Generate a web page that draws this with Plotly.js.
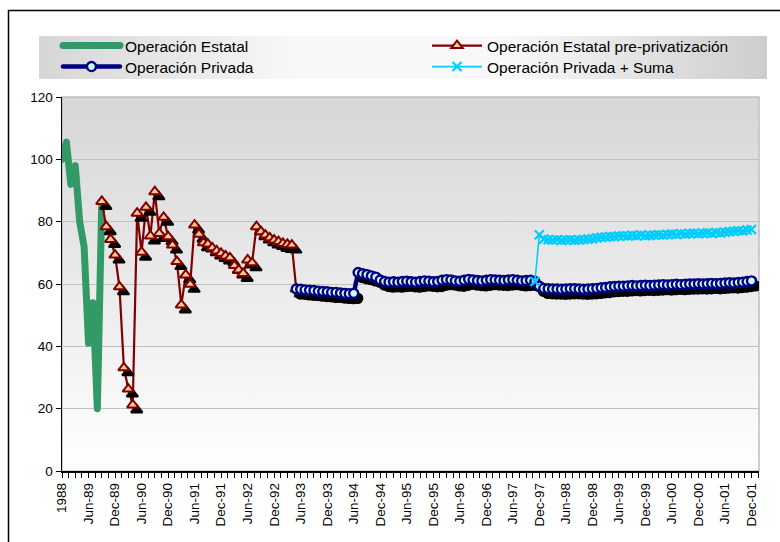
<!DOCTYPE html>
<html><head><meta charset="utf-8">
<script src="https://cdn.plot.ly/plotly-3.0.1.min.js"></script>
<style>
html,body{margin:0;padding:0;background:#fff;}
#chart{width:780px;height:542px;}
.tracepre .points, .tracepriv .points { filter: url(#shadow); }
.traceest .js-line, .tracepriv .js-line { stroke-linejoin: round !important; stroke-linecap: round !important; }
g.legend .legendlines path, g.legend3 .legendlines path { stroke-linecap: round !important; }
</style>
</head><body>
<svg width="0" height="0" style="position:absolute">
 <defs><filter id="shadow" x="-20%" y="-30%" width="150%" height="180%">
  <feDropShadow dx="4" dy="5" stdDeviation="0.5" flood-color="#000" flood-opacity="1"/>
 </filter></defs>
</svg>
<div id="chart"></div>
<script>
// Category axis: month index, 0 = "1988" label, ticks every 6 months
const tickLabels = ['1988','Jun-89','Dec-89','Jun-90','Dec-90','Jun-91','Dec-91','Jun-92','Dec-92','Jun-93','Dec-93','Jun-94','Dec-94','Jun-95','Dec-95','Jun-96','Dec-96','Jun-97','Dec-97','Jun-98','Dec-98','Jun-99','Dec-99','Jun-00','Dec-00','Jun-01','Dec-01'];

const estatalStart = 0;
const estatal = [100, 105.5, 92, 98, 80, 72, 41, 54, 20, 86.5];

const prePrivStart = 9;
const prePriv = [86.5, 78.4, 74.3, 69.3, 59.1, 33.1, 26.3, 21.2, 82.7, 70.2, 84.6, 75.4, 89.6, 76.2, 81.4, 75.2,
  72.5, 67.2, 53.3, 62.9, 59.9, 78.9, 76.0, 73.2, 72.8, 71.6, 70.6, 69.8, 69.0, 68.4, 65.9, 64.5, 63.4,
  67.7, 66.8, 78.4, 76.8, 75.7, 74.8, 74.1, 73.6, 73.0, 72.7, 72.5, 58.4];

const privadaStart = 53;
const privada = [58.4, 58.3, 58.1, 58.0, 57.9, 57.7, 57.6, 57.5, 57.3, 57.3, 57.1, 57.0, 56.9, 57.0,
  63.7, 63.3, 63.0, 62.6, 62.2, 61.3,
  60.8, 60.6, 60.7, 60.6, 60.8, 60.9, 60.7, 60.6, 60.8, 61.0, 60.9, 60.7, 60.8, 61.2, 61.4, 61.3, 61.0,
  60.9, 61.2, 61.5, 61.3, 61.1, 61.0, 61.2, 61.4, 61.3, 61.2, 61.1, 61.3, 61.4, 61.2, 61.0, 61.1, 61.2,
  60.8, 59.3, 58.6,
  58.5, 58.4, 58.4, 58.3, 58.4, 58.5, 58.5, 58.4, 58.3, 58.4, 58.5,
  58.6, 58.8, 58.9, 59.1, 59.2, 59.3, 59.3, 59.4, 59.5, 59.4, 59.5, 59.6,
  59.5, 59.6, 59.7, 59.8, 59.7, 59.8, 59.9, 59.8, 59.9, 60.0, 60.0, 60.1,
  60.0, 60.1, 60.2, 60.1, 60.2, 60.3, 60.4, 60.3, 60.5, 60.6, 60.8, 61.0];

const sumaStart = 107;
const suma = [60.8, 75.8,
  74.4, 74.2, 74.1, 74.2, 74.0, 74.1,
  74.2, 74.0, 74.1, 74.3, 74.4, 74.5,
  74.8, 75.0, 75.1, 75.2, 75.2, 75.4,
  75.5, 75.4, 75.6, 75.5, 75.7, 75.5,
  75.6, 75.7, 75.8, 75.7, 75.9, 76.0,
  75.9, 76.1, 76.0, 76.2, 76.3, 76.1,
  76.3, 76.4, 76.2, 76.5, 76.4, 76.6,
  76.8, 76.9, 77.1, 77.0, 77.3, 77.5];

const names = ['Operación Estatal', 'Operación Estatal pre-privatización', 'Operación Privada', 'Operación Privada + Suma'];

function xs(start, arr) { return arr.map((_, i) => start + i); }

const FONT = 'Liberation Sans, Arial, sans-serif';

const traces = [
  {x: xs(estatalStart, estatal), y: estatal, name: names[0], mode: 'lines', uid: 'est', legend: 'legend',
   line: {color: '#339966', width: 7}},
  {x: xs(prePrivStart, prePriv), y: prePriv, name: names[1], mode: 'lines+markers', uid: 'pre', legend: 'legend2',
   line: {color: '#800000', width: 2.2},
   marker: {symbol: 'triangle-up', size: 10, color: '#ffcc99', line: {color: '#800000', width: 2}}},
  {x: xs(privadaStart, privada), y: privada, name: names[2], mode: 'lines+markers', uid: 'priv', legend: 'legend3',
   line: {color: '#000080', width: 4.5},
   marker: {symbol: 'circle', size: 9, color: '#ccffff', line: {color: '#000080', width: 2.4}}},
  {x: xs(sumaStart, suma), y: suma, name: names[3], mode: 'lines+markers', uid: 'suma', legend: 'legend4',
   line: {color: '#00ccff', width: 1.6},
   marker: {symbol: 'x-thin', size: 9, color: '#00ccff', line: {color: '#00ccff', width: 2.2}}}
];

function gradUrl(vertical, stops) {
  const g = vertical ? 'x1="0" y1="0" x2="0" y2="1"' : 'x1="0" y1="0" x2="1" y2="0"';
  const s = stops.map(st => '<stop offset="' + st[0] + '" stop-color="' + st[1] + '"/>').join('');
  const svg = '<svg xmlns="http://www.w3.org/2000/svg" width="100" height="100" viewBox="0 0 100 100" preserveAspectRatio="none">' +
    '<defs><linearGradient id="g" ' + g + '>' + s + '</linearGradient></defs>' +
    '<rect x="0" y="0" width="100" height="100" fill="url(#g)"/></svg>';
  return 'data:image/svg+xml;charset=utf-8,' + encodeURIComponent(svg);
}

// pixel -> paper helpers for layout decoration (plot area: x 62..759, y 97..471)
const L = 62, R = 759, T = 97, B = 471;
const px = v => (v - L) / (R - L);
const py = v => (B - v) / (B - T);

function legendAt(xp, yp, w) {
  return {x: px(xp), y: py(yp), xanchor: 'left', yanchor: 'middle', bgcolor: 'rgba(0,0,0,0)',
    borderwidth: 0, itemwidth: w, font: {family: FONT, size: 15.5, color: '#000'}, orientation: 'v'};
}

const layout = {
  width: 780, height: 542,
  margin: {l: L, r: 780 - R, t: T, b: 542 - B, autoexpand: false},
  paper_bgcolor: '#ffffff', plot_bgcolor: 'rgba(0,0,0,0)',
  showlegend: true,
  legend: legendAt(58, 46, 57),
  legend2: legendAt(427, 46, 50),
  legend3: legendAt(58, 67, 57),
  legend4: legendAt(427, 67, 50),
  xaxis: {
    range: [0, 157.7], tickmode: 'array', tickvals: tickLabels.map((_, i) => i * 6), ticktext: tickLabels,
    tickangle: -90, ticks: 'outside', ticklen: 5, tickcolor: '#000', tickwidth: 1,
    minor: {tick0: 0, dtick: 1.5, ticks: 'outside', ticklen: 5, tickcolor: '#000', tickwidth: 1, showgrid: false},
    showline: true, linecolor: '#000', linewidth: 1.5, showgrid: false, zeroline: false,
    tickfont: {family: FONT, size: 13.5, color: '#000'}, fixedrange: true
  },
  yaxis: {
    range: [0, 120], dtick: 20, ticks: 'outside', ticklen: 5, tickcolor: '#000',
    showline: true, linecolor: '#000', linewidth: 1.5, showgrid: true, gridcolor: '#c0c0c0', gridwidth: 1,
    zeroline: false, tickfont: {family: FONT, size: 13.5, color: '#000'}, fixedrange: true
  },
  images: [
    {source: gradUrl(true, [[0, '#d6d6d6'], [1, '#ffffff']]), xref: 'paper', yref: 'paper',
     x: 0, y: 1, sizex: 1, sizey: 1, sizing: 'stretch', layer: 'below', xanchor: 'left', yanchor: 'top'},
    {source: gradUrl(false, [[0, '#d6d6d6'], [0.35, '#f8f8f8'], [0.65, '#f8f8f8'], [1, '#cdcdcd']]), xref: 'paper', yref: 'paper',
     x: px(39), y: py(36), sizex: px(767) - px(39), sizey: py(36) - py(79), sizing: 'stretch', layer: 'below',
     xanchor: 'left', yanchor: 'top'}
  ],
  shapes: [
    {type: 'rect', xref: 'paper', yref: 'paper', x0: 0, x1: 1, y0: 0, y1: 1,
     line: {color: '#bfbfbf', width: 1.5}, layer: 'below'},
    {type: 'rect', xref: 'paper', yref: 'paper', x0: px(8.5), x1: px(800), y0: py(560), y1: py(10.5),
     line: {color: '#000', width: 1.5}, layer: 'above'}
  ],
  font: {family: FONT, color: '#000'}
};

Plotly.newPlot('chart', traces, layout, {displayModeBar: false, staticPlot: true});
</script>
</body></html>
